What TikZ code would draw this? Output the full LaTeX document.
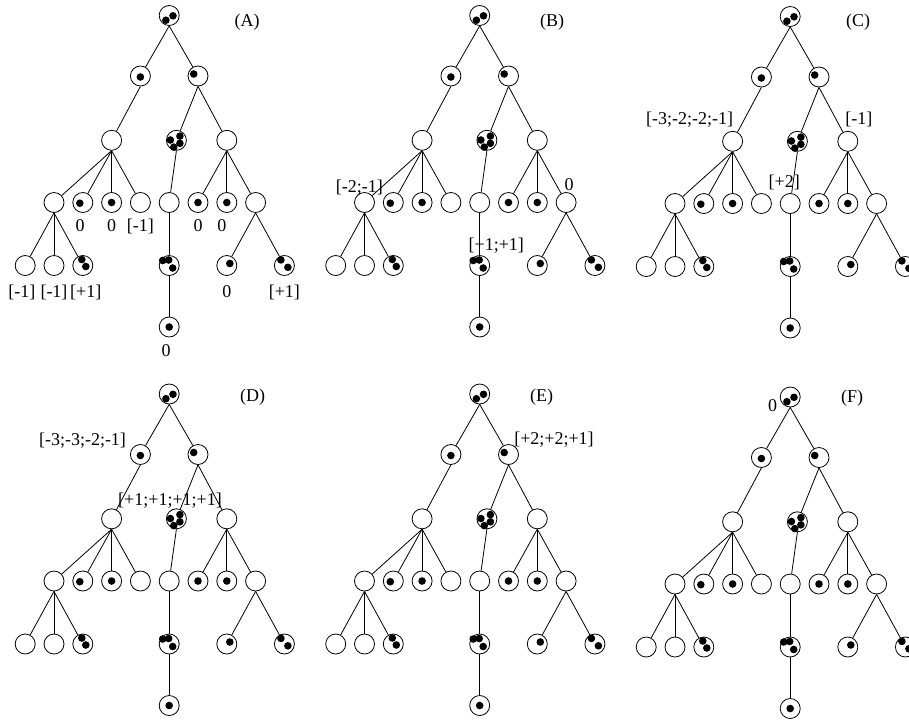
\documentclass[tikz,border=0pt]{standalone}
\usepackage{fontspec}
\setmainfont{Liberation Serif}
\usetikzlibrary{positioning}

\tikzset{
  spot/.style={circle,draw,line width=0.8pt,minimum size=20pt,inner sep=0pt},
  twig/.style={line width=0.8pt},
  tag/.style={inner sep=0pt,text height=12.5pt,text depth=4pt,font=\fontsize{18}{20}\selectfont},
}

% one stone inside a spot, shifted from its centre
\newcommand{\stone}[3]{\fill ([shift={(#2,#3)}]#1) circle (3.8pt);}

% the whole game tree, #1 = prefix of the node names, (#2,#3) = root
\newcommand{\stonetree}[3]{%
\begin{scope}[shift={(#2,#3)}]
 \node[spot] (#100) at (0,0) {};
 \node[spot] (#110) at (-28.8,-60.5) {};
 \node[spot] (#111) at (28.8,-60.5) {};
 \node[spot] (#120) at (-57.6,-124.8) {};
 \node[spot] (#121) at (7.2,-124.8) {};
 \node[spot] (#122) at (57.6,-124.8) {};
 \node[spot] (#130) at (-115.2,-187) {};
 \node[spot] (#131) at (-86.4,-187) {};
 \node[spot] (#132) at (-57.6,-187) {};
 \node[spot] (#133) at (-28.8,-187) {};
 \node[spot] (#134) at (0,-187) {};
 \node[spot] (#135) at (28.8,-187) {};
 \node[spot] (#136) at (57.6,-187) {};
 \node[spot] (#137) at (86.4,-187) {};
 \node[spot] (#140) at (-144,-250) {};
 \node[spot] (#141) at (-115.2,-250) {};
 \node[spot] (#142) at (-86.4,-250) {};
 \node[spot] (#143) at (0,-250) {};
 \node[spot] (#144) at (57.6,-250) {};
 \node[spot] (#145) at (115.2,-250) {};
 \node[spot] (#150) at (0,-311.5) {};
\end{scope}
 \foreach \p/\c in {00/10,00/11,10/20,11/21,11/22,20/30,20/31,20/32,20/33,
   21/34,22/35,22/36,22/37,30/40,30/41,30/42,34/43,37/44,37/45,43/50}
   \draw[twig] (#1\p.south) -- (#1\c);
 % stones
 \stone{#100}{-3.3}{-4.7} \stone{#100}{3.8}{-0.3}
 \stone{#110}{0}{-1}
 \stone{#111}{-4.3}{2}
 \stone{#121}{-6}{0.3} \stone{#121}{3.5}{4.2} \stone{#121}{3.5}{-3} \stone{#121}{-2.6}{-6.8}
 \stone{#131}{-3}{-0.7}
 \stone{#132}{0}{0}
 \stone{#135}{0}{0}
 \stone{#136}{0}{0}
 \stone{#142}{-1}{6} \stone{#142}{3}{-1}
 \stone{#143}{-6.5}{5} \stone{#143}{-0.5}{5.5} \stone{#143}{3.5}{-2.5}
 \stone{#144}{3}{2}
 \stone{#145}{-3.5}{5.6} \stone{#145}{3.5}{-1.8}
 \stone{#150}{0}{0}
}

\begin{document}
\begin{tikzpicture}[x=1pt,y=1pt]
\useasboundingbox (0,0) rectangle (909,-721);

\stonetree{A}{169.2}{-15.5}
\stonetree{B}{479.7}{-15.5}
\stonetree{C}{790.2}{-16.5}
\stonetree{D}{169.2}{-394}
\stonetree{E}{479.7}{-394}
\stonetree{F}{790.2}{-397}

% (A)
\node[tag] (Aname) at ([shift={(78,-6.5)}]A00) {(A)};
\node[tag, below=5.5pt of A31, xshift=-2.7pt] (A31t) {0};
\node[tag, below=5.5pt of A32] (A32t) {0};
\node[tag, below=5.5pt of A33] (A33t) {[-1]};
\node[tag, below=5.5pt of A35] (A35t) {0};
\node[tag, below=5.5pt of A36, xshift=-5pt] (A36t) {0};
\node[tag, below=9pt of A40, xshift=-3.3pt] (A40t) {[-1]};
\node[tag, below=9pt of A41] (A41t) {[-1]};
\node[tag, below=9pt of A42, xshift=3pt] (A42t) {[+1]};
\node[tag, below=9pt of A44] (A44t) {0};
\node[tag, below=9pt of A45] (A45t) {[+1]};
\node[tag, below=6pt of A50, xshift=-3pt] (A50t) {0};

% (B)
\node[tag] (Bname) at ([shift={(72.5,-6.8)}]B00) {(B)};
\node[tag] (B30t) at ([shift={(-5.2,14.2)}]B30) {[-2;-1]};
\node[tag] (B37t) at ([shift={(2.9,16.1)}]B37) {0};
\node[tag] (B43t) at ([shift={(16.6,18.8)}]B43) {[+1;+1]};

% (C)
\node[tag] (Cname) at ([shift={(68,-6.2)}]C00) {(C)};
\node[tag] (C20t) at ([shift={(-42.9,20.8)}]C20) {[-3;-2;-2;-1]};
\node[tag] (C22t) at ([shift={(11,20.8)}]C22) {[-1]};
\node[tag] (C34t) at ([shift={(-5.9,20.7)}]C34) {[+2]};

% (D)
\node[tag] (Dname) at ([shift={(83.3,-3.2)}]D00) {(D)};
\node[tag] (D10t) at ([shift={(-57.9,13.2)}]D10) {[-3;-3;-2;-1]};
\node[tag] (D21t) at ([shift={(-6.4,17.1)}]D21) {[+1;+1;+1;+1]};

% (E)
\node[tag] (Ename) at ([shift={(62,-3.2)}]E00) {(E)};
\node[tag] (E11t) at ([shift={(45.5,14.5)}]E11) {[+2;+2;+1]};

% (F)
\node[tag] (Fname) at ([shift={(62,-1.5)}]F00) {(F)};
\node[tag] (F00t) at ([shift={(-17.7,-10.4)}]F00) {0};

\end{tikzpicture}
\end{document}
